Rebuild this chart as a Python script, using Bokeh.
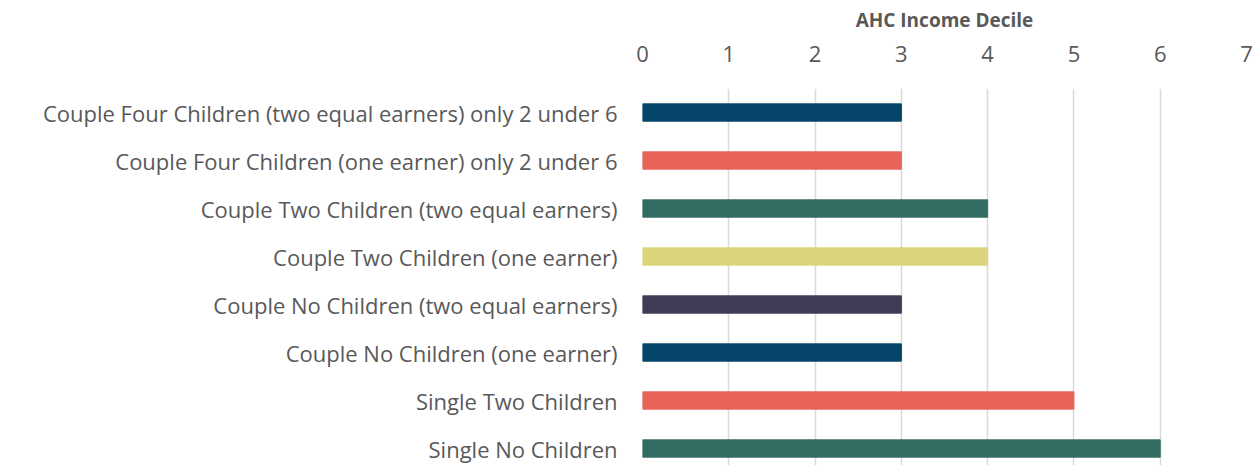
from bokeh.plotting import figure
from bokeh.models import Range1d, FixedTicker, ColumnDataSource, LinearAxis, Grid
from bokeh.embed import file_html
from bokeh.resources import INLINE

categories = [
    "Couple Four Children (two equal earners) only 2 under 6",
    "Couple Four Children (one earner) only 2 under 6",
    "Couple Two Children (two equal earners)",
    "Couple Two Children (one earner)",
    "Couple No Children (two equal earners)",
    "Couple No Children (one earner)",
    "Single Two Children",
    "Single No Children",
]
deciles = [3, 3, 4, 4, 3, 3, 5, 6]
colors = ["#06456A", "#E8645A", "#346B62", "#DAD57D", "#403C57", "#06456A", "#E8645A", "#346B62"]
x_ticks = [0, 1, 2, 3, 4, 5, 6, 7]

pos = list(range(len(categories)))
src = ColumnDataSource(dict(y=pos, right=deciles, color=colors))

p = figure(width=1254, height=465, output_backend="svg", toolbar_location=None,
           x_range=Range1d(0, 7), y_range=Range1d(7.354, -0.5),
           x_axis_location=None, y_axis_location="left",
           min_border_left=642, min_border_right=8, min_border_top=88, min_border_bottom=0)
p.outline_line_color = None
p.background_fill_color = "white"
p.border_fill_color = "white"

p.hbar(y="y", left=0, right="right", height=0.36, color="color", source=src)

xaxis = LinearAxis(axis_label="AHC Income Decile", ticker=FixedTicker(ticks=x_ticks))
xaxis.axis_line_color = None
xaxis.major_tick_line_color = None
xaxis.minor_tick_line_color = None
xaxis.major_label_text_font = "Open Sans"
xaxis.major_label_text_font_size = "22px"
xaxis.major_label_text_color = "#595959"
xaxis.major_label_standoff = 21
xaxis.axis_label_text_font = "Open Sans"
xaxis.axis_label_text_font_style = "bold"
xaxis.axis_label_text_font_size = "19px"
xaxis.axis_label_text_color = "#595959"
xaxis.axis_label_standoff = 10
p.add_layout(xaxis, "above")

p.xgrid.grid_line_color = None
p.ygrid.grid_line_color = None
g = Grid(dimension=0, ticker=xaxis.ticker, grid_line_color="#d9d9d9", grid_line_width=1.5)
p.add_layout(g)

ya = p.yaxis[0]
ya.ticker = FixedTicker(ticks=pos)
ya.major_label_overrides = {i: c for i, c in enumerate(categories)}
ya.axis_line_color = None
ya.major_tick_line_color = None
ya.minor_tick_line_color = None
ya.major_label_text_font = "Open Sans"
ya.major_label_text_font_size = "22px"
ya.major_label_text_color = "#595959"
ya.major_label_standoff = 19

open("out.html", "w").write(file_html(p, INLINE))
